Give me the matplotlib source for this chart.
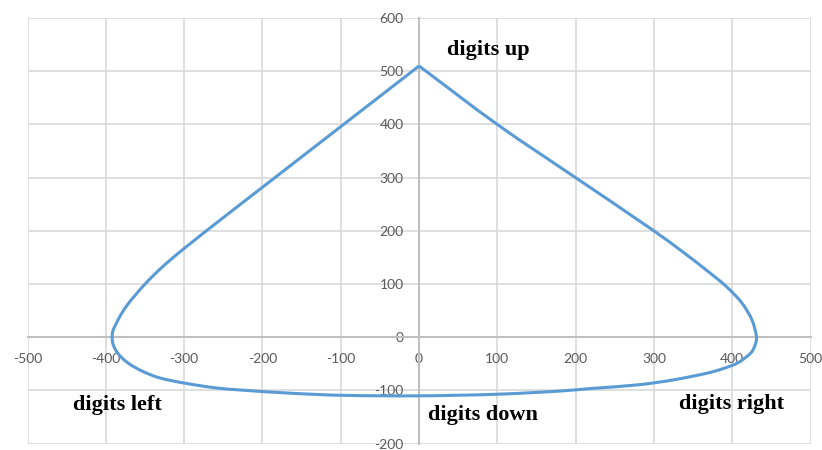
import matplotlib
matplotlib.use("Agg")
import matplotlib.pyplot as plt
import numpy as np
from matplotlib.path import Path
from matplotlib.patches import PathPatch

plt.rcParams["axes.unicode_minus"] = False

# Closed reach contour, traced clockwise from the top point
contour_x = [0, 100, 200, 300, 340, 368, 392, 412, 425, 431,
             429, 424, 407, 390, 369, 325, 282, 222, 180, 100, 0,
             -100, -165, -229, -260, -300, -332, -353, -369, -380, -387,
             -391, -392, -391, -387, -381, -372, -362, -350, -338, -325,
             -300, -250, -200, -100, 0]
contour_y = [510, 400, 300, 200, 157, 125, 96, 65, 33, 0,
             -15, -29, -48, -58, -67, -80, -89, -96, -101, -107, -110,
             -109, -105, -99, -95, -86, -76, -64, -51, -38, -25,
             -12, 0, 12, 25, 42, 62, 80, 100, 118, 136,
             167, 225, 282, 396, 510]

x_ticks = [-500, -400, -300, -200, -100, 0, 100, 200, 300, 400, 500]
y_ticks = [-200, -100, 0, 100, 200, 300, 400, 500, 600]

labels = ["digits up", "digits left", "digits down", "digits right"]
label_x = [36, -442, 11, 332]
label_y = [540, -127, -146, -125]


def smooth_path(xs, ys):
    """Smoothed line through the points (chord-length Catmull-Rom as cubic Beziers)."""
    p = np.column_stack([xs, ys]).astype(float)
    n = len(p)
    seg = np.linalg.norm(np.diff(p, axis=0), axis=1)
    tang = np.zeros_like(p)
    for i in range(n):
        if i == 0:
            tang[i] = (p[1] - p[0]) / seg[0]
        elif i == n - 1:
            tang[i] = (p[-1] - p[-2]) / seg[-1]
        else:
            tang[i] = (p[i + 1] - p[i - 1]) / (seg[i - 1] + seg[i])
    verts = [p[0]]
    codes = [Path.MOVETO]
    for i in range(n - 1):
        d = seg[i] / 3.0
        verts += [p[i] + tang[i] * d, p[i + 1] - tang[i + 1] * d, p[i + 1]]
        codes += [Path.CURVE4] * 3
    return Path(verts, codes)


fig = plt.figure(figsize=(8.22, 4.5), dpi=100)
ax = fig.add_axes([0.0335, 0.014, 0.9526, 0.9458])

ax.add_patch(PathPatch(smooth_path(contour_x, contour_y), facecolor="none",
                       edgecolor="#5b9bd5", lw=2.2, joinstyle="miter",
                       zorder=3))

ax.set_xlim(-500, 500)
ax.set_ylim(-200, 600)
ax.set_xticks(x_ticks)
ax.set_yticks(y_ticks)
ax.grid(True, color="#d9d9d9", lw=1.2, zorder=0)
ax.set_axisbelow(True)

for side in ("top", "right"):
    ax.spines[side].set_visible(False)
for side in ("left", "bottom"):
    ax.spines[side].set_position(("data", 0))
    ax.spines[side].set_color("#bfbfbf")
    ax.spines[side].set_linewidth(1.4)
    ax.spines[side].set_zorder(1)

ax.tick_params(axis="both", length=0, labelcolor="#595959", labelsize=10)
ax.tick_params(axis="x", pad=11.5)
ax.tick_params(axis="y", pad=11)
for t in ax.get_xticklabels() + ax.get_yticklabels():
    t.set_fontfamily("Lato")

for text, tx, ty in zip(labels, label_x, label_y):
    ax.text(tx, ty, text, ha="left", va="center", fontsize=16,
            fontweight="bold", family="Liberation Serif", color="black",
            zorder=4)

fig.savefig("out.png", dpi=100, facecolor="white")
